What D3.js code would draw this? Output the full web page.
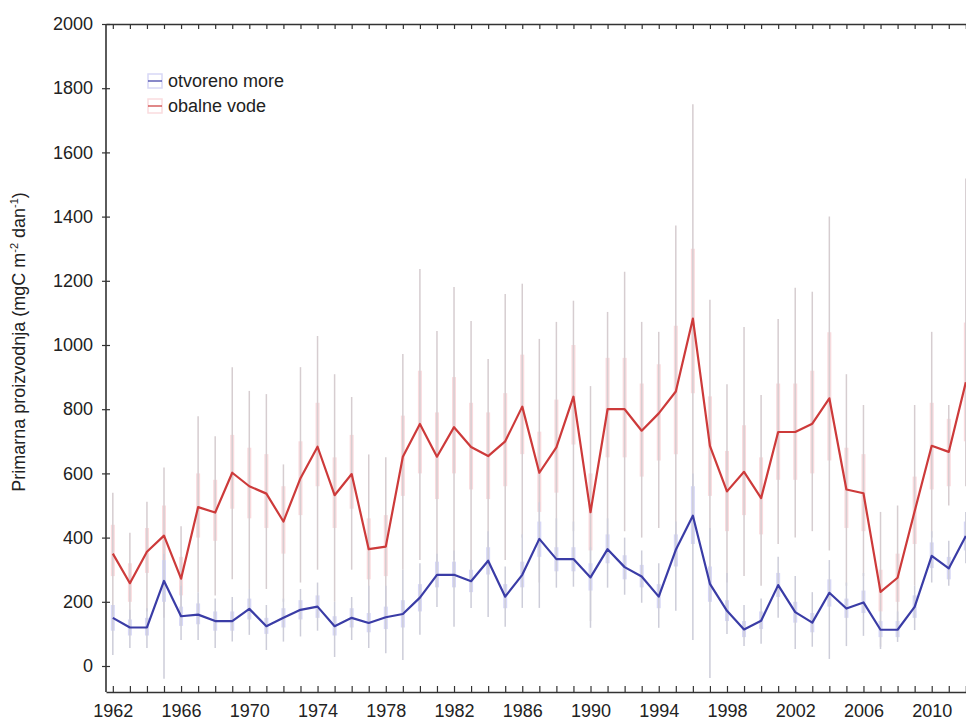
<!DOCTYPE html>
<html><head><meta charset="utf-8">
<script src="https://cdn.jsdelivr.net/npm/d3@7"></script>
<style>
html,body{margin:0;padding:0;background:#fff;}
svg{display:block;}
text{font-family:"Liberation Sans",Arial,sans-serif;fill:#222;}
</style></head>
<body><svg id="c" width="966" height="722"></svg>
<script>
const years = d3.range(1962, 2013);
const labelYears = [1962,1966,1970,1974,1978,1982,1986,1990,1994,1998,2002,2006,2010];
const yTicks = [0,200,400,600,800,1000,1200,1400,1600,1800,2000];
const seriesNames = ["otvoreno more","obalne vode"];

// obalne vode (coastal waters)
const redMean = [350,258,356,406,272,495,478,602,560,537,
  450,585,683,532,598,364,372,652,754,652,
  744,682,654,700,808,602,681,839,479,800,
  800,733,787,855,1082,686,544,605,523,729,
  729,755,834,550,538,231,275,482,686,667,
  884];
const redLow = [160,120,170,150,130,230,220,270,240,240,
  200,260,300,200,300,130,140,300,330,280,
  330,300,300,330,400,260,320,420,140,400,
  420,400,430,380,560,300,260,280,250,380,
  400,420,360,250,280,60,90,250,400,500,
  560];
const redHigh = [540,415,512,618,435,778,716,931,857,847,
  628,931,1028,909,838,659,650,972,1237,1044,
  1181,1075,956,1159,1191,1019,1072,1138,872,1103,
  1228,1072,1041,1372,1750,1141,878,1056,844,1081,
  1178,1166,1400,909,813,480,500,813,1041,813,
  1519];
const redBoxLow = [280,200,290,330,220,400,390,490,460,430,
  350,470,560,430,490,270,280,530,600,520,
  600,550,520,560,660,480,540,690,360,650,
  650,590,640,660,850,530,420,470,410,580,
  580,600,640,430,420,170,200,380,550,560,
  700];
const redBoxHigh = [440,320,430,500,340,600,580,720,680,660,
  560,700,820,650,720,460,470,780,920,790,
  900,820,790,850,970,730,830,1000,600,960,
  960,880,940,1060,1300,840,670,750,650,880,
  880,920,1040,680,660,300,350,590,820,770,
  1070];

// otvoreno more (open sea)
const blueMean = [150,120,120,265,155,160,140,140,178,124,
  150,175,185,124,150,134,152,162,213,284,
  284,264,328,216,284,396,333,333,276,364,
  308,279,216,362,468,256,172,114,141,252,
  168,135,228,179,198,113,113,184,343,304,
  405];
const blueLow = [34,56,56,-40,81,81,56,76,97,50,
  76,92,110,28,81,56,40,19,97,184,
  122,181,153,122,181,181,244,247,119,244,
  222,197,119,172,81,-37,100,62,69,150,
  53,60,22,62,94,53,75,112,260,250,
  320];
const blueHigh = [190,175,180,350,250,230,210,215,240,190,
  210,240,260,200,215,250,250,300,320,350,
  360,330,420,310,410,510,460,450,370,460,
  400,360,320,450,600,430,290,190,210,340,
  280,230,330,260,290,170,170,250,420,390,
  480];
const blueBoxLow = [110,95,95,200,125,130,110,110,145,100,
  120,145,150,95,120,105,115,120,170,245,
  245,230,285,180,245,340,295,295,235,320,
  270,245,180,310,380,200,140,90,115,215,
  135,105,185,150,165,90,90,150,305,270,
  360];
const blueBoxHigh = [190,145,150,330,185,195,170,170,210,150,
  180,205,220,155,180,165,185,205,255,325,
  325,300,370,255,325,450,370,370,320,410,
  345,315,255,410,560,310,205,140,170,290,
  200,165,270,210,235,140,140,220,385,340,
  450];

const svg = d3.select("#c");
const mLeft = 106, mTop = 24, mBottom = 692;
const x = d3.scaleLinear().domain([1961.6, 2012.6]).range([mLeft, mLeft + 51*17.06]);
const y = d3.scaleLinear().domain([-81, 2000]).range([mBottom, mTop]);

const series = [
  {name:seriesNames[1], mean:redMean, low:redLow, high:redHigh, bl:redBoxLow, bh:redBoxHigh,
   line:"#cd3a3a", box:"#fadbde", whisk:"#d6cdd0"},
  {name:seriesNames[0], mean:blueMean, low:blueLow, high:blueHigh, bl:blueBoxLow, bh:blueBoxHigh,
   line:"#3a3ca6", box:"#d8d8f6", whisk:"#cdcdd9"}
];

const plot = svg.append("g");
series.forEach(s => {
  const g = plot.append("g");
  g.selectAll("line.box").data(years).join("line")
    .attr("x1", d => x(d)).attr("x2", d => x(d))
    .attr("y1", (d,i) => y(s.bl[i])).attr("y2", (d,i) => y(s.bh[i]))
    .attr("stroke", s.box).attr("stroke-width", 4);
  g.selectAll("line.wh").data(years).join("line")
    .attr("x1", d => x(d)).attr("x2", d => x(d))
    .attr("y1", (d,i) => y(s.low[i])).attr("y2", (d,i) => y(s.high[i]))
    .attr("stroke", s.whisk).attr("stroke-width", 1.5);
});
series.forEach(s => {
  plot.append("path")
    .attr("d", d3.line().x(d => x(d)).y((d,i) => y(s.mean[i]))(years))
    .attr("fill","none").attr("stroke", s.line).attr("stroke-width", 2.2)
    .attr("stroke-linejoin","round");
});

// axes
const axisColor = "#333";
const gB = svg.append("g").attr("transform",`translate(0,${mBottom})`)
  .call(d3.axisBottom(x).tickValues(years).tickFormat("").tickSizeInner(-6).tickSizeOuter(0));
const gBL = svg.append("g").attr("transform",`translate(0,${mBottom})`)
  .call(d3.axisBottom(x).tickValues(labelYears).tickFormat(d3.format("d")).tickSize(0).tickPadding(12));
gBL.select(".domain").remove();
const gT = svg.append("g").attr("transform",`translate(0,${mTop})`)
  .call(d3.axisTop(x).tickValues(years).tickFormat("").tickSizeInner(-5).tickSizeOuter(0));
const gL = svg.append("g").attr("transform",`translate(${mLeft},0)`)
  .call(d3.axisLeft(y).tickValues(yTicks).tickFormat(d3.format("d")).tickSizeInner(4).tickSizeOuter(0).tickPadding(9));
const gR = svg.append("g").attr("transform",`translate(${mLeft},0)`)
  .call(d3.axisRight(y).tickValues(yTicks).tickFormat("").tickSizeInner(4).tickSizeOuter(0));
gR.select(".domain").remove();
[gB,gBL,gT,gL,gR].forEach(g => {
  g.selectAll(".domain").attr("stroke", axisColor).attr("stroke-width", 1.6);
  g.selectAll(".tick line").attr("stroke", axisColor).attr("stroke-width", 1.2);
  g.selectAll("text").style("font-size","18px").attr("fill","#222");
});
gL.select(".domain").attr("d", `M0,${mBottom}V${mTop}`);

// y title
const title = svg.append("text")
  .attr("transform", `translate(25,342) rotate(-90)`)
  .attr("text-anchor","middle").style("font-size","18px");
title.append("tspan").text("Primarna proizvodnja (mgC m");
title.append("tspan").attr("dy",-7).style("font-size","11px").text("-2");
title.append("tspan").attr("dy",7).text(" dan");
title.append("tspan").attr("dy",-7).style("font-size","11px").text("-1");
title.append("tspan").attr("dy",7).text(")");

// legend
const legend = svg.append("g");
const legItems = [series[1], series[0]];
legItems.forEach((s, i) => {
  const cy = 81 + i*25;
  const g = legend.append("g");
  g.append("rect").attr("x",148).attr("y",cy-7).attr("width",14).attr("height",14)
    .attr("fill","#fff").attr("stroke", s.box).attr("stroke-width",1.5);
  g.append("line").attr("x1",148).attr("x2",162).attr("y1",cy).attr("y2",cy)
    .attr("stroke", s.line).attr("stroke-width",2).attr("opacity",0.6);
  g.append("text").attr("x",168).attr("y",cy+6).style("font-size","18px").text(s.name);
});
</script></body></html>
